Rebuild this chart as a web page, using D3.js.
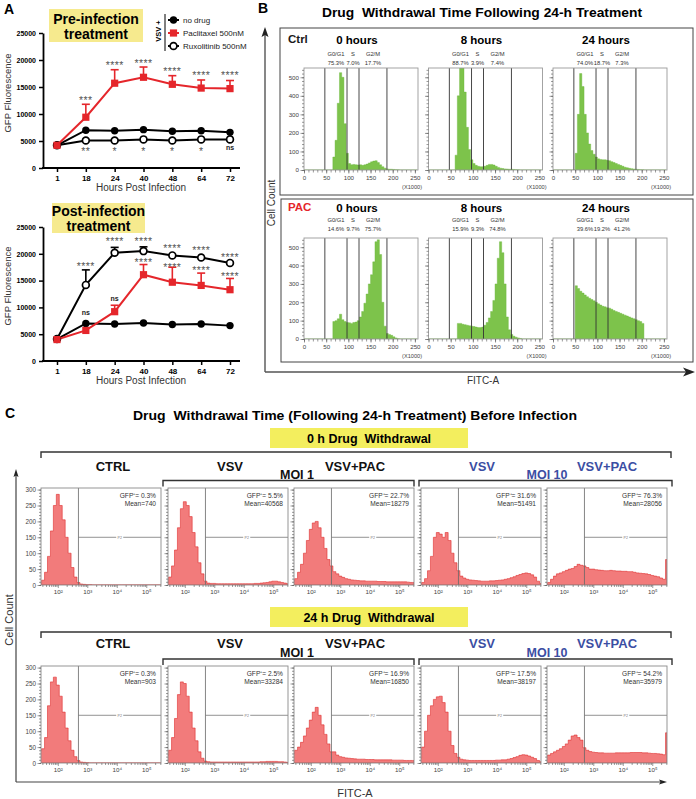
<!DOCTYPE html>
<html>
<head>
<meta charset="utf-8">
<script src="https://cdn.jsdelivr.net/npm/d3@7"></script>
<style>
body { margin: 0; background: #fff; }
svg { display: block; font-family: "Liberation Sans", Arial, sans-serif; }
</style>
</head>
<body>
<svg id="fig" width="696" height="799"></svg>
<script>
// ---------- Panel A data ----------
const hours = [1, 18, 24, 40, 48, 64, 72];
const yTicksA = [0, 5000, 10000, 15000, 20000, 25000];
const legendNames = ["no drug", "Paclitaxel 500nM", "Ruxolitinib 500nM"];

const preNoDrug = [4200, 7000, 6900, 7100, 6800, 6900, 6600];
const prePac = [4200, 9400, 15700, 16800, 15500, 14800, 14700];
const prePacErr = [null, 11800, 18200, 18700, 17100, 16300, 16200];
const preRux = [4200, 5100, 5100, 5300, 5100, 5300, 5300];
const preRuxErr = [null, null, null, null, null, null, null];
const preStarsTop = ["", "***", "****", "****", "****", "****", "****"];
const preStarsTopY = [null, 13000, 19400, 19800, 18300, 17600, 17600];
const preStarsBot = ["", "**", "*", "*", "*", "*", "ns"];
const preStarsBotY = [null, 3500, 3500, 3500, 3500, 3500, 3800];

const postNoDrug = [4100, 7000, 6900, 7100, 6800, 6900, 6600];
const postPac = [4000, 5700, 9200, 16100, 14700, 14100, 13300];
const postPacErr = [null, null, 10400, 18000, 17500, 16400, 15400];
const postRux = [4100, 14200, 20200, 20500, 19700, 19300, 18300];
const postRuxErr = [null, 17000, 21200, 21300, null, null, null];
const postStarsRux = ["", "****", "****", "****", "****", "****", "****"];
const postStarsRuxY = [null, 18100, 22700, 22800, 21500, 21000, 19800];
const postStarsPac = ["", "ns", "ns", "****", "****", "****", "****"];
const postStarsPacY = [null, 9000, 11700, 18800, 17900, 17400, 16200];

// ---------- Panel B data (cell count per 5-unit FITC-A bin, x1000) ----------
const binsB = d3.range(0, 260, 5);
const xTicksB = [0, 50, 100, 150, 200, 250];
const yTicksB = [0, 100, 200, 300, 400, 500];
const gateEdgesB = [47, 97, 124, 187];
const gateNamesB = ["G0/G1", "S", "G2/M"];
const hourTitles = ["0 hours", "8 hours", "24 hours"];

const ctrl0h = [0,0,0,0,0,0,0,0,0,0,0,0,0, 70,160,360,525,500,250,90,
  35,28,30,28,27,28,25,28,32,38, 44,48,50,40,28,18,10,6,4,4,
  3,2,1,0,0,0,0,0,0,0, 0,0];
const ctrl8h = [0,0,0,0,0,0,0,0,0,0,0,0, 80,400,560,560,420,230,110,55,
  35,25,20,18,18,20,25,30,30,27, 20,14,10,8,6,5,4,4,3,2,
  1,0,0,0,0,0,0,0,0,0, 0,0];
const ctrl24h = [0,0,0,0,0,0,0,0,0,0, 90,300,520,450,300,200,140,105,85,70,
  60,57,55,55,52,50,45,40,35,30, 25,20,15,12,9,7,5,4,3,2,
  1,0,0,0,0,0,0,0,0,0, 0,0];
const pac0h = [0,0,0,0,0,0,0,0,0,0,0,0,0, 95,100,110,135,105,95,90,
  88,85,90,92,100,120,150,195,245,300, 350,420,530,540,460,200,70,30,25,20,
  12,6,2,0,0,0,0,0,0,0, 0,0];
const pac8h = [0,0,0,0,0,0,0,0,0,0,0,0,0, 85,85,80,78,75,72,70,
  68,65,62,62,65,75,90,115,150,210, 300,440,530,470,300,120,50,25,15,10,
  6,3,0,0,0,0,0,0,0,0, 0,0];
const pac24h = [0,0,0,0,0,0,0,0,0,0, 290,275,260,250,240,230,222,215,208,200,
  192,185,178,175,170,168,162,155,150,145, 140,135,130,125,120,115,110,105,100,95,
  85,0,0,0,0,0,0,0,0,0, 0,0];

const ctrlPct = [["75.3%", "7.0%", "17.7%"], ["88.7%", "3.9%", "7.4%"], ["74.0%", "18.7%", "7.3%"]];
const pacPct = [["14.6%", "9.7%", "75.7%"], ["15.9%", "9.3%", "74.8%"], ["39.6%", "19.2%", "41.2%"]];

// ---------- Panel C data (cell count per 0.1 log10 FITC-A bin) ----------
const binsC = d3.range(14, 56).map(d => d / 10);
const yTicksC = [0, 50, 100, 150, 200, 250, 300];
const xTicksC = [2, 3, 4, 5];
const xTickLabelsC = ["10²", "10³", "10⁴", "10⁵"];
const gateC = 2.7;
const colNamesC = ["CTRL", "VSV", "VSV+PAC", "VSV", "VSV+PAC"];

const ctrlTop = [5,15,40,90,170,250,285,250,205,150, 100,55,25,8,3,2,1,1,0,0,
  0,0,0,0,0,0,0,0,0,0, 0,0,0,0,0,0,0,0,0,0, 0,0];
const vsv1Top = [8,25,60,110,180,240,262,250,215,165, 120,70,35,12,6,5,5,4,4,4,
  4,4,4,4,4,4,4,4,4,4, 5,5,6,7,8,10,12,12,10,8, 6,4];
const pac1Top = [12,20,40,65,100,140,175,195,200,180, 150,115,80,60,42,35,28,24,20,18,
  16,15,14,13,13,12,12,12,12,11, 11,11,10,10,10,10,10,10,10,9, 8,8];
const vsv10Top = [3,8,20,45,90,150,165,160,150,165, 140,100,70,45,28,22,18,16,15,14,
  13,12,12,12,13,13,14,15,16,18, 20,23,26,30,33,36,38,36,32,25, 12,5];
const pac10Top = [3,8,18,28,35,38,42,46,50,52, 58,65,62,60,55,50,50,48,47,46,
  45,45,46,45,44,44,43,43,42,42, 40,38,37,36,35,33,30,28,26,22, 18,80];

const ctrlBot = [40,45,80,180,255,270,245,210,160,110, 70,40,20,8,3,2,1,0,0,0,
  0,0,0,0,0,0,0,0,0,0, 0,0,0,0,0,0,0,0,0,0, 0,0];
const vsv1Bot = [25,40,80,140,215,255,250,210,160,110, 70,35,15,6,4,3,3,3,3,3,
  3,3,3,3,3,3,3,3,3,3, 3,3,4,4,5,5,5,5,4,4, 3,2];
const pac1Bot = [30,40,50,65,85,110,135,160,175,150, 120,90,60,35,35,25,20,18,16,15,
  14,13,12,12,12,11,11,11,10,10, 10,10,10,10,9,9,9,9,8,8, 8,8];
const vsv10Bot = [15,50,100,150,180,200,208,210,190,160, 100,55,30,18,12,10,9,8,8,8,
  8,8,8,8,8,8,9,9,10,10, 12,14,17,20,24,26,25,22,18,14, 8,4];
const pac10Bot = [22,25,30,35,40,45,52,60,72,85, 88,80,72,48,40,36,34,33,32,32,
  31,31,31,31,32,32,32,32,32,33, 33,33,33,32,32,31,30,30,29,28, 26,95];

const gfpTop = ["0.3%", "5.5%", "22.7%", "31.6%", "76.3%"];
const meanTop = ["740", "40568", "18279", "51491", "28056"];
const gfpBot = ["0.3%", "2.5%", "16.9%", "17.5%", "54.2%"];
const meanBot = ["903", "33284", "16850", "38197", "35979"];

// ---------- drawing ----------
const RED = "#e5262b";
const BLUE = "#3b4ea3";
const svg = d3.select("#fig");
svg.append("rect").attr("width", 696).attr("height", 799).attr("fill", "#fff");
const defs = svg.append("defs");
let clipId = 0;

function txt(g, x, y, s, size, opts) {
    opts = opts || {};
    return g.append("text")
        .attr("x", x).attr("y", y)
        .attr("font-size", size)
        .attr("font-weight", opts.bold ? "bold" : "normal")
        .attr("text-anchor", opts.anchor || "start")
        .attr("fill", opts.fill || "#000")
        .text(s);
}

// ===== Panel A =====
const xA = d3.scalePoint().domain(hours).range([57, 230]);

function drawMarker(g, type, cx, cy) {
    if (type === "dot") {
        g.append("circle").attr("cx", cx).attr("cy", cy).attr("r", 3.7).attr("fill", "#000");
    } else if (type === "square") {
        g.append("rect").attr("x", cx - 3.6).attr("y", cy - 3.6).attr("width", 7.2).attr("height", 7.2).attr("fill", RED);
    } else {
        g.append("circle").attr("cx", cx).attr("cy", cy).attr("r", 3.4)
            .attr("fill", "#fff").attr("stroke", "#000").attr("stroke-width", 1.7);
    }
}

function linePanel(yTop, yBot, noDrug, pac, pacErr, rux, ruxErr, starSets) {
    const g = svg.append("g");
    const y = d3.scaleLinear().domain([0, 25000]).range([yBot, yTop]);

    const yAx = g.append("g").attr("transform", "translate(43,0)")
        .call(d3.axisLeft(y).tickValues(yTicksA).tickSize(4).tickSizeOuter(0).tickFormat(d3.format("d")));
    yAx.select(".domain").attr("stroke-width", 1.8);
    yAx.selectAll(".tick line").attr("stroke-width", 1.5);
    yAx.selectAll(".tick text").attr("font-size", 7).attr("font-weight", "bold")
        .attr("font-family", "Liberation Sans, Arial, sans-serif");

    const xAx = g.append("g").attr("transform", `translate(0,${yBot})`)
        .call(d3.axisBottom(xA).tickSize(4));
    xAx.select(".domain").remove();
    xAx.selectAll(".tick line").attr("stroke-width", 1.5);
    xAx.selectAll(".tick text").attr("font-size", 8).attr("font-weight", "bold")
        .attr("font-family", "Liberation Sans, Arial, sans-serif");
    g.append("line").attr("x1", 42).attr("x2", 240).attr("y1", yBot).attr("y2", yBot)
        .attr("stroke", "#000").attr("stroke-width", 1.8);

    txt(g, 141, yBot + 23, "Hours Post Infection", 10, { anchor: "middle", fill: "#333" });
    g.append("text").attr("transform", `translate(11,${yBot - 75}) rotate(-90)`)
        .attr("text-anchor", "middle").attr("font-size", 9.5).attr("fill", "#333").text("GFP Fluorescence");

    const line = d3.line().x((d, i) => xA(hours[i])).y(d => y(d));

    function errBars(vals, errs, color) {
        errs.forEach((e, i) => {
            if (e == null) return;
            const cx = xA(hours[i]);
            g.append("line").attr("x1", cx).attr("x2", cx).attr("y1", y(vals[i])).attr("y2", y(e))
                .attr("stroke", color).attr("stroke-width", 1.6);
            g.append("line").attr("x1", cx - 4).attr("x2", cx + 4).attr("y1", y(e)).attr("y2", y(e))
                .attr("stroke", color).attr("stroke-width", 1.6);
        });
    }

    errBars(rux, ruxErr, "#000");
    errBars(pac, pacErr, RED);
    g.append("path").datum(noDrug).attr("d", line).attr("fill", "none").attr("stroke", "#000").attr("stroke-width", 2);
    g.append("path").datum(rux).attr("d", line).attr("fill", "none").attr("stroke", "#000").attr("stroke-width", 2);
    g.append("path").datum(pac).attr("d", line).attr("fill", "none").attr("stroke", RED).attr("stroke-width", 2);
    noDrug.forEach((v, i) => drawMarker(g, "dot", xA(hours[i]), y(v)));
    rux.forEach((v, i) => drawMarker(g, "open", xA(hours[i]), y(v)));
    pac.forEach((v, i) => drawMarker(g, "square", xA(hours[i]), y(v)));

    starSets.forEach(([labels, ys]) => {
        labels.forEach((s, i) => {
            if (!s) return;
            const cx = xA(hours[i]);
            if (s === "ns") {
                txt(g, cx, y(ys[i]) + 2.5, s, 7, { anchor: "middle", bold: true, fill: "#222" });
            } else {
                txt(g, cx, y(ys[i]) + 6, s, 10.5, { anchor: "middle", fill: "#555" })
                    .attr("letter-spacing", 0.4);
            }
        });
    });
    return g;
}

txt(svg, 4, 14, "A", 14, { bold: true });

// pre-infection
svg.append("rect").attr("x", 49).attr("y", 9).attr("width", 94).attr("height", 33).attr("fill", "#f6ea8e");
txt(svg, 96, 24, "Pre-infection", 14, { anchor: "middle", bold: true });
txt(svg, 96, 39, "treatment", 14, { anchor: "middle", bold: true });
linePanel(33, 168, preNoDrug, prePac, prePacErr, preRux, preRuxErr,
    [[preStarsTop, preStarsTopY], [preStarsBot, preStarsBotY]]);

// legend
const lg = svg.append("g");
lg.append("line").attr("x1", 165).attr("x2", 165).attr("y1", 14).attr("y2", 51).attr("stroke", "#000").attr("stroke-width", 1);
lg.append("text").attr("transform", "translate(161,31) rotate(-90)").attr("text-anchor", "middle")
    .attr("font-size", 7.5).attr("font-weight", "bold").text("VSV +");
["dot", "square", "open"].forEach((t, i) => {
    const yy = 20 + i * 13;
    lg.append("line").attr("x1", 168).attr("x2", 179).attr("y1", yy).attr("y2", yy)
        .attr("stroke", t === "square" ? RED : "#000").attr("stroke-width", 2);
    drawMarker(lg, t, 173.5, yy);
    txt(lg, 183, yy + 3, legendNames[i], 8, { fill: "#222" });
});

// post-infection
svg.append("rect").attr("x", 52).attr("y", 203).attr("width", 93).attr("height", 30).attr("fill", "#f6ea8e");
txt(svg, 98.5, 215.5, "Post-infection", 14, { anchor: "middle", bold: true });
txt(svg, 98.5, 231, "treatment", 14, { anchor: "middle", bold: true });
linePanel(227, 361, postNoDrug, postPac, postPacErr, postRux, postRuxErr,
    [[postStarsRux, postStarsRuxY], [postStarsPac, postStarsPacY]]);

// ===== Panel B =====
txt(svg, 258, 13, "B", 14, { bold: true });
txt(svg, 482, 17, "Drug  Withdrawal Time Following 24-h Treatment", 13, { anchor: "middle", bold: true })
    .attr("textLength", 320).attr("lengthAdjust", "spacingAndGlyphs").style("white-space", "pre");

// axis arrows
svg.append("path").attr("d", "M265,372 V33 M265,372 H688").attr("fill", "none").attr("stroke", "#555").attr("stroke-width", 1.4);
svg.append("path").attr("d", "M265,27 L261.5,37 L265,35 L268.5,37 Z").attr("fill", "#222");
svg.append("path").attr("d", "M695,372 L683,367.5 L686,372 L683,376.5 Z").attr("fill", "#222");
svg.append("text").attr("transform", "translate(275,203) rotate(-90)").attr("text-anchor", "middle")
    .attr("font-size", 10).attr("fill", "#333").text("Cell Count");
txt(svg, 483, 384, "FITC-A", 10, { anchor: "middle", fill: "#333" });

const frameLeftB = [304, 428.5, 553];
const frameWB = 114;
const bRows = [
    { name: "Ctrl", color: "#1a1a1a", hists: [ctrl0h, ctrl8h, ctrl24h], pct: ctrlPct,
      box: [280, 28, 413, 167], titleY: 44, gateY: 55.5, pctY: 64.5, fTop: 68, fBot: 170 },
    { name: "PAC", color: RED, hists: [pac0h, pac8h, pac24h], pct: pacPct,
      box: [281, 199, 412, 163], titleY: 211.5, gateY: 221.5, pctY: 230.5, fTop: 238, fBot: 339 }
];

bRows.forEach(row => {
    const g = svg.append("g");
    g.append("rect").attr("x", row.box[0]).attr("y", row.box[1]).attr("width", row.box[2]).attr("height", row.box[3])
        .attr("fill", "none").attr("stroke", "#444").attr("stroke-width", 1);
    txt(g, 288, row.titleY - 1, row.name, 11.5, { bold: true, fill: row.color });

    row.hists.forEach((h, k) => {
        const L = frameLeftB[k];
        const x = d3.scaleLinear().domain([0, 257]).range([L, L + frameWB]);
        const y = d3.scaleLinear().domain([0, 550]).range([row.fBot, row.fTop]);
        txt(g, L + 53, row.titleY, hourTitles[k], 11.5, { anchor: "middle", bold: true });

        gateNamesB.forEach((n, j) => {
            const cx = x((gateEdgesB[j] + gateEdgesB[j + 1]) / 2);
            txt(g, cx, row.gateY, n, 5.8, { anchor: "middle", fill: "#333" });
            txt(g, cx, row.pctY, row.pct[k][j], 5.8, { anchor: "middle", fill: "#333" });
        });

        const id = "cb" + (clipId++);
        defs.append("clipPath").attr("id", id).append("rect")
            .attr("x", L).attr("y", row.fTop).attr("width", frameWB).attr("height", row.fBot - row.fTop);
        const area = d3.area().curve(d3.curveStepAfter)
            .x((d, i) => x(binsB[i])).y0(y(0)).y1(d => y(d));
        g.append("path").datum(h).attr("d", area).attr("clip-path", `url(#${id})`)
            .attr("fill", "#7dc34b").attr("stroke", "#69b63a").attr("stroke-width", 0.4);

        gateEdgesB.forEach(e => {
            g.append("line").attr("x1", x(e)).attr("x2", x(e)).attr("y1", row.fTop).attr("y2", row.fBot)
                .attr("stroke", "#333").attr("stroke-width", 0.9);
        });
        g.append("rect").attr("x", L).attr("y", row.fTop).attr("width", frameWB).attr("height", row.fBot - row.fTop)
            .attr("fill", "none").attr("stroke", "#9a9a9a").attr("stroke-width", 0.9);

        // x axis
        const xm = g.append("g").attr("transform", `translate(0,${row.fBot})`)
            .call(d3.axisBottom(x).tickValues(d3.range(0, 260, 10)).tickSize(2.5).tickFormat(""));
        xm.select(".domain").remove();
        const xAx = g.append("g").attr("transform", `translate(0,${row.fBot})`)
            .call(d3.axisBottom(x).tickValues(xTicksB).tickSize(3.5).tickPadding(2));
        xAx.select(".domain").remove();
        xAx.selectAll(".tick text").attr("font-size", 6.2).attr("fill", "#444")
            .attr("font-family", "Liberation Sans, Arial, sans-serif");
        g.selectAll(".tick line").attr("stroke", "#555").attr("stroke-width", 0.6);
        txt(g, L + frameWB + 4, row.fBot + 19, "(X1000)", 5.6, { anchor: "end", fill: "#444" });

        // y axis
        const ym = g.append("g").attr("transform", `translate(${L},0)`)
            .call(d3.axisLeft(y).tickValues(d3.range(0, 560, 20)).tickSize(2).tickFormat(""));
        ym.select(".domain").remove();
        const yAx = g.append("g").attr("transform", `translate(${L},0)`)
            .call(d3.axisLeft(y).tickValues(yTicksB).tickSize(3.5).tickPadding(1.5).tickFormat(k === 0 ? d3.format("d") : ""));
        yAx.select(".domain").remove();
        yAx.selectAll(".tick text").attr("font-size", 6.2).attr("fill", "#444")
            .attr("font-family", "Liberation Sans, Arial, sans-serif");
        g.selectAll(".tick line").attr("stroke", "#555").attr("stroke-width", 0.6);
    });
});

// ===== Panel C =====
txt(svg, 5, 418, "C", 14, { bold: true });
txt(svg, 355, 419.5, "Drug  Withdrawal Time (Following 24-h Treatment) Before Infection", 13, { anchor: "middle", bold: true })
    .attr("textLength", 444).attr("lengthAdjust", "spacingAndGlyphs").style("white-space", "pre");

svg.append("path").attr("d", "M16,782 V475 M16,782 H661").attr("fill", "none").attr("stroke", "#444").attr("stroke-width", 1.2);
svg.append("path").attr("d", "M16,469 L13.5,477 L16,475.5 L18.5,477 Z").attr("fill", "#222");
svg.append("path").attr("d", "M667,782 L659,779.5 L660.5,782 L659,784.5 Z").attr("fill", "#222");
svg.append("text").attr("transform", "translate(13,620) rotate(-90)").attr("text-anchor", "middle")
    .attr("font-size", 11).attr("fill", "#333").text("Cell Count");
txt(svg, 355, 797, "FITC-A", 11, { anchor: "middle", fill: "#333" });

const frameLeftC = [41, 168, 294, 421, 547];
const frameWC = 120;
const colXC = [113, 230, 355, 482, 607];
const cRows = [
    { title: "0 h Drug  Withdrawal", hists: [ctrlTop, vsv1Top, pac1Top, vsv10Top, pac10Top], gfp: gfpTop, mean: meanTop,
      yel: 428, bracket: 452, colY: 471, moiY: 479, sub: 480.5, fTop: 488, fBot: 585 },
    { title: "24 h Drug  Withdrawal", hists: [ctrlBot, vsv1Bot, pac1Bot, vsv10Bot, pac10Bot], gfp: gfpBot, mean: meanBot,
      yel: 607, bracket: 632, colY: 647.5, moiY: 656.5, sub: 659, fTop: 666, fBot: 763 }
];

cRows.forEach(row => {
    const g = svg.append("g");
    g.append("rect").attr("x", 270).attr("y", row.yel).attr("width", 198).attr("height", 20).attr("fill", "#f3ee5e");
    txt(g, 369, row.yel + 14.5, row.title, 12.5, { anchor: "middle", bold: true }).style("white-space", "pre");

    g.append("path").attr("d", `M41,${row.bracket + 6} V${row.bracket} H671 V${row.bracket + 6}`)
        .attr("fill", "none").attr("stroke", "#333").attr("stroke-width", 1.4);
    g.append("path").attr("d", `M163,${row.sub + 6} V${row.sub} H414 V${row.sub + 6}`)
        .attr("fill", "none").attr("stroke", "#333").attr("stroke-width", 1.4);
    g.append("path").attr("d", `M419,${row.sub + 6} V${row.sub} H672 V${row.sub + 6}`)
        .attr("fill", "none").attr("stroke", "#333").attr("stroke-width", 1.4);

    colNamesC.forEach((n, k) => {
        txt(g, colXC[k], row.colY, n, 13, { anchor: "middle", bold: true, fill: k >= 3 ? BLUE : "#111" });
    });
    txt(g, 297, row.moiY, "MOI 1", 12.5, { anchor: "middle", bold: true, fill: "#111" });
    txt(g, 547, row.moiY, "MOI 10", 12.5, { anchor: "middle", bold: true, fill: BLUE });

    row.hists.forEach((h, k) => {
        const L = frameLeftC[k];
        const x = d3.scaleLinear().domain([1.43, 5.5]).range([L, L + frameWC]);
        const y = d3.scaleLinear().domain([0, 305]).range([row.fBot, row.fTop]);

        const id = "cc" + (clipId++);
        defs.append("clipPath").attr("id", id).append("rect")
            .attr("x", L).attr("y", row.fTop).attr("width", frameWC).attr("height", row.fBot - row.fTop);
        const area = d3.area().curve(d3.curveStep)
            .x((d, i) => x(binsC[i])).y0(y(0)).y1(d => y(d));
        g.append("path").datum(h).attr("d", area).attr("clip-path", `url(#${id})`)
            .attr("fill", "#f27b7b").attr("stroke", "#df2f2f").attr("stroke-width", 0.6);

        const gx = x(gateC);
        g.append("line").attr("x1", gx).attr("x2", gx).attr("y1", row.fTop).attr("y2", row.fBot)
            .attr("stroke", "#666").attr("stroke-width", 0.8);
        g.append("line").attr("x1", gx).attr("x2", L + frameWC).attr("y1", y(150)).attr("y2", y(150))
            .attr("stroke", "#777").attr("stroke-width", 0.8);
        const px = (gx + L + frameWC) / 2;
        g.append("rect").attr("x", px - 3.5).attr("y", y(150) - 1.5).attr("width", 7).attr("height", 3).attr("fill", "#fff");
        txt(g, px, y(150) + 1.3, "P2", 3.6, { anchor: "middle", fill: "#777" });

        g.append("rect").attr("x", L).attr("y", row.fTop).attr("width", frameWC).attr("height", row.fBot - row.fTop)
            .attr("fill", "none").attr("stroke", "#8a8a8a").attr("stroke-width", 0.9);

        txt(g, L + frameWC - 5, row.fTop + 10, "GFP⁺= " + row.gfp[k], 6.6, { anchor: "end", fill: "#333" });
        txt(g, L + frameWC - 5, row.fTop + 17.8, "Mean=" + row.mean[k], 6.6, { anchor: "end", fill: "#333" });

        // log x ticks
        const minor = [];
        [1, 2, 3, 4, 5].forEach(dec => {
            for (let m = 2; m <= 9; m++) {
                const v = dec + Math.log10(m);
                if (v > 1.43 && v < 5.5) minor.push(v);
            }
        });
        const xm = g.append("g").attr("transform", `translate(0,${row.fBot})`)
            .call(d3.axisBottom(x).tickValues(minor).tickSize(2).tickFormat(""));
        xm.select(".domain").remove();
        const xAx = g.append("g").attr("transform", `translate(0,${row.fBot})`)
            .call(d3.axisBottom(x).tickValues(xTicksC).tickSize(3).tickPadding(2)
                .tickFormat((d, i) => xTickLabelsC[i]));
        xAx.select(".domain").remove();
        xAx.selectAll(".tick text").attr("font-size", 6.2).attr("fill", "#444")
            .attr("font-family", "Liberation Sans, Arial, sans-serif");

        const ym = g.append("g").attr("transform", `translate(${L},0)`)
            .call(d3.axisLeft(y).tickValues(d3.range(0, 305, 10)).tickSize(2).tickFormat(""));
        ym.select(".domain").remove();
        const yAx = g.append("g").attr("transform", `translate(${L},0)`)
            .call(d3.axisLeft(y).tickValues(yTicksC).tickSize(3.5).tickPadding(1.5)
                .tickFormat(k === 0 ? d3.format("d") : ""));
        yAx.select(".domain").remove();
        yAx.selectAll(".tick text").attr("font-size", 6.3).attr("fill", "#444")
            .attr("font-family", "Liberation Sans, Arial, sans-serif");
        g.selectAll(".tick line").attr("stroke", "#555").attr("stroke-width", 0.6);
    });
});
</script>
</body>
</html>
